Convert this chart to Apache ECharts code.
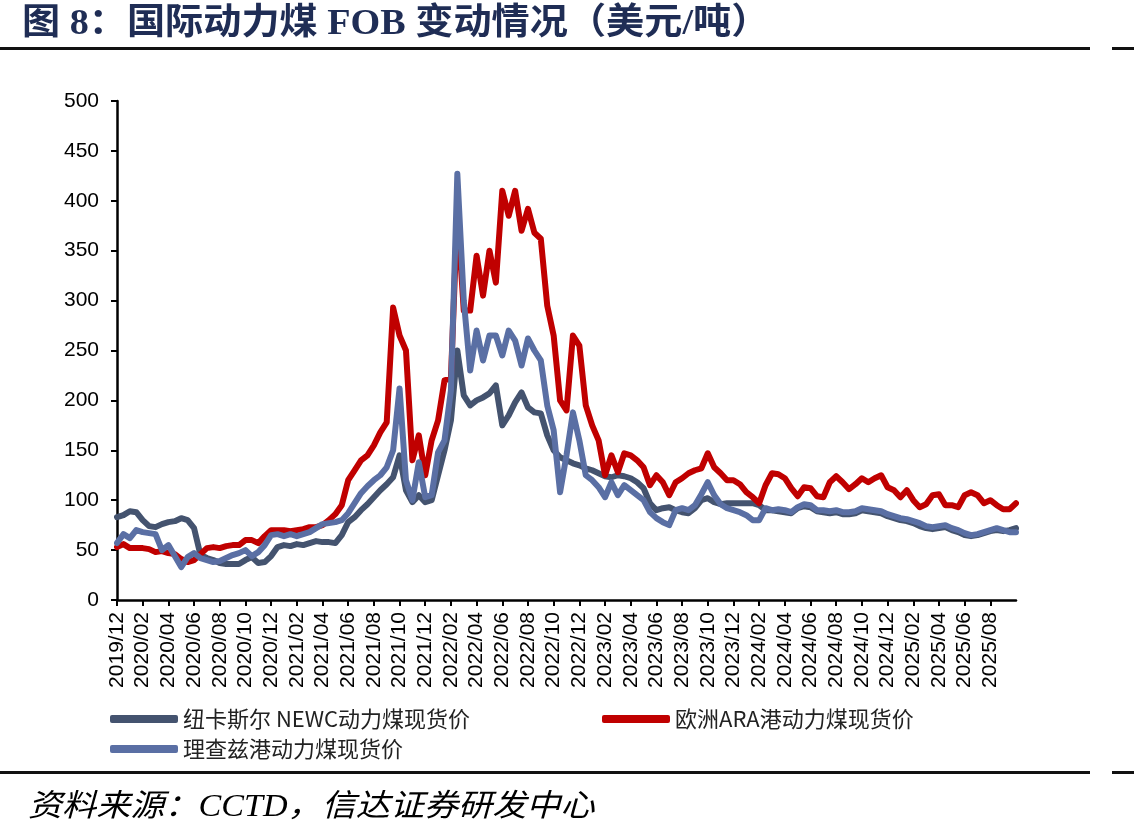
<!DOCTYPE html>
<html>
<head>
<meta charset="utf-8">
<script src="https://cdn.jsdelivr.net/npm/echarts@6/dist/echarts.min.js"></script>
<style>
  html, body { margin: 0; padding: 0; background: #fff; }
  #chart { width: 1134px; height: 840px; }
</style>
</head>
<body>
<div id="chart"></div>
<script>
// 半月一个点，从 2019/12 开始
const newc = [
  83, 85, 89, 88, 80, 74, 73, 76, 78, 79,
  82, 80, 72, 45, 42, 40, 37, 36, 36, 36,
  40, 43, 37, 38, 44, 53, 55, 54, 56, 55,
  57, 59, 58, 58, 57, 65, 78, 83, 90, 96,
  103, 110, 116, 123, 145, 110, 98, 105, 98, 100,
  125, 150, 180, 250, 205, 195, 200, 203, 207, 215,
  175, 185, 198, 208, 193, 188, 187, 165, 150, 143,
  140, 137, 135, 132, 130, 127, 124, 123, 125, 124,
  122, 118, 112, 97, 90, 92, 93, 90, 88, 87,
  92, 100, 102, 98, 96, 97, 97, 97, 97, 97,
  95, 90, 90, 89, 88, 87, 92, 94, 93, 89,
  88, 87, 88, 86, 86, 87, 90, 89, 88, 87,
  84, 82, 80, 79, 77, 74, 72, 71, 72, 73,
  70, 68, 65, 64, 65, 67, 69, 70, 69, 70,
  72
]
const ara = [
  53, 56, 52, 52, 52, 51, 48, 49, 47, 46,
  41, 38, 40, 46, 52, 53, 52, 54, 55, 55,
  60, 60, 57, 64, 70, 70, 70, 69, 70, 71,
  73, 73, 75, 80, 86, 95, 120, 130, 140, 145,
  155, 168, 178, 293, 265, 250, 140, 165, 125, 160,
  180, 220, 222, 390, 290, 290, 345, 305, 350, 318,
  410, 385, 410, 370, 392, 368, 362, 295, 265, 200,
  190, 265, 255, 195, 175, 160, 125, 145, 128, 147,
  145, 140, 133, 115, 125, 118, 105, 118, 122, 127,
  130, 132, 147, 133, 127, 120, 120, 116, 108, 103,
  97, 115, 127, 126, 122, 112, 104, 113, 112, 104,
  103, 118, 124, 118, 111, 116, 122, 118, 122, 125,
  113, 110, 103, 110, 100, 93, 96, 105, 106, 95,
  95, 93, 105, 108, 105, 97, 100, 95, 91, 91,
  97
]
const richards = [
  57, 66, 62, 70, 68, 67, 66, 50, 55, 44,
  33, 43, 47, 42, 40, 38, 39, 42, 45, 47,
  50, 44, 48, 55, 65, 66, 64, 66, 64, 66,
  68, 72, 76, 77, 78, 80, 87, 97, 107, 114,
  120, 125, 133, 150, 212, 120, 100, 138, 103, 105,
  148, 160, 210, 427, 300, 230, 270, 240, 265, 265,
  245, 270, 260, 235, 262, 250, 240, 195, 170, 108,
  145, 188, 160, 125, 120, 113, 103, 118, 105, 115,
  110, 105, 100, 88, 82, 78, 75, 90, 92, 90,
  95, 106, 118, 105, 96, 92, 90, 88, 85, 80,
  80, 92, 90, 91, 90, 88, 93, 96, 95, 90,
  90, 89, 90, 88, 88, 89, 92, 91, 90, 89,
  86, 84, 82, 81, 79, 77, 74, 73, 74, 75,
  72, 70, 67, 65, 66, 68, 70, 72, 70, 68,
  68
]
const seriesNames = ['纽卡斯尔 NEWC动力煤现货价', '欧洲ARA港动力煤现货价', '理查兹港动力煤现货价']
const colors = ['#44536f', '#c00000', '#5a6fa4']

const dates = []
for (let i = 0; i < newc.length; i++) {
  const m = 11 + Math.floor(i / 2)
  const mm = String(m % 12 + 1).padStart(2, '0')
  dates.push(`${2019 + Math.floor(m / 12)}/${mm}/${i % 2 ? '16' : '01'}`)
}
// 每两个月一个刻度，最后到 2025/08
const showTick = i => i % 4 === 0 && i <= 136

const chart = echarts.init(document.getElementById('chart'))
const legendBase = {
  icon: 'roundRect',
  itemWidth: 68,
  itemHeight: 8,
  padding: 0,
  textStyle: { fontFamily: 'Noto Sans CJK SC', fontSize: 22, color: '#222' }
}
const lineSeries = (name, data, color) => ({
  name: name,
  type: 'line',
  data: data,
  symbol: 'none',
  color: color,
  lineStyle: { width: 6, color: color, cap: 'round', join: 'round' }
})

chart.setOption({
  animation: false,
  backgroundColor: '#fff',
  grid: { left: 117, right: 118, top: 101, bottom: 240 },
  legend: [
    Object.assign({ data: [seriesNames[0]], left: 110, top: 708 }, legendBase),
    Object.assign({ data: [seriesNames[1]], left: 602, top: 708 }, legendBase),
    Object.assign({ data: [seriesNames[2]], left: 110, top: 738 }, legendBase)
  ],
  xAxis: {
    type: 'category',
    data: dates,
    boundaryGap: false,
    axisLine: { lineStyle: { color: '#000', width: 2.5 } },
    axisTick: { interval: showTick, length: 6, lineStyle: { color: '#000', width: 2 } },
    axisLabel: {
      interval: showTick,
      rotate: 90,
      margin: 12,
      fontFamily: 'Liberation Sans',
      fontSize: 21,
      color: '#000',
      formatter: v => v.slice(0, 7)
    },
    splitLine: { show: false }
  },
  yAxis: {
    type: 'value',
    min: 0,
    max: 500,
    interval: 50,
    axisLine: { show: true, lineStyle: { color: '#000', width: 2.5 } },
    axisTick: { show: true, length: 6, lineStyle: { color: '#000', width: 2 } },
    axisLabel: { margin: 18, fontFamily: 'Liberation Sans', fontSize: 21, color: '#000' },
    splitLine: { show: false }
  },
  series: [
    lineSeries(seriesNames[0], newc, colors[0]),
    lineSeries(seriesNames[1], ara, colors[1]),
    lineSeries(seriesNames[2], richards, colors[2])
  ],
  graphic: [
    {
      type: 'text', left: 22, top: 7, scaleX: 1.06,
      style: {
        text: '图 8：国际动力煤 FOB 变动情况（美元/吨）',
        font: 'bold 36px "Liberation Serif", "Noto Sans CJK SC"',
        fill: '#1f2d55'
      }
    },
    { type: 'rect', shape: { x: 0, y: 47, width: 1090, height: 3 }, style: { fill: '#111' } },
    { type: 'rect', shape: { x: 1112, y: 47, width: 22, height: 3 }, style: { fill: '#111' } },
    { type: 'rect', shape: { x: 0, y: 771, width: 1090, height: 3 }, style: { fill: '#111' } },
    { type: 'rect', shape: { x: 1112, y: 771, width: 22, height: 3 }, style: { fill: '#111' } },
    {
      type: 'text', left: 28, top: 792, scaleX: 1.1,
      style: {
        text: '资料来源：CCTD，信达证券研发中心',
        font: 'italic 31px "Liberation Serif", "Noto Sans CJK SC"',
        fill: '#000'
      }
    }
  ]
})
</script>
</body>
</html>
